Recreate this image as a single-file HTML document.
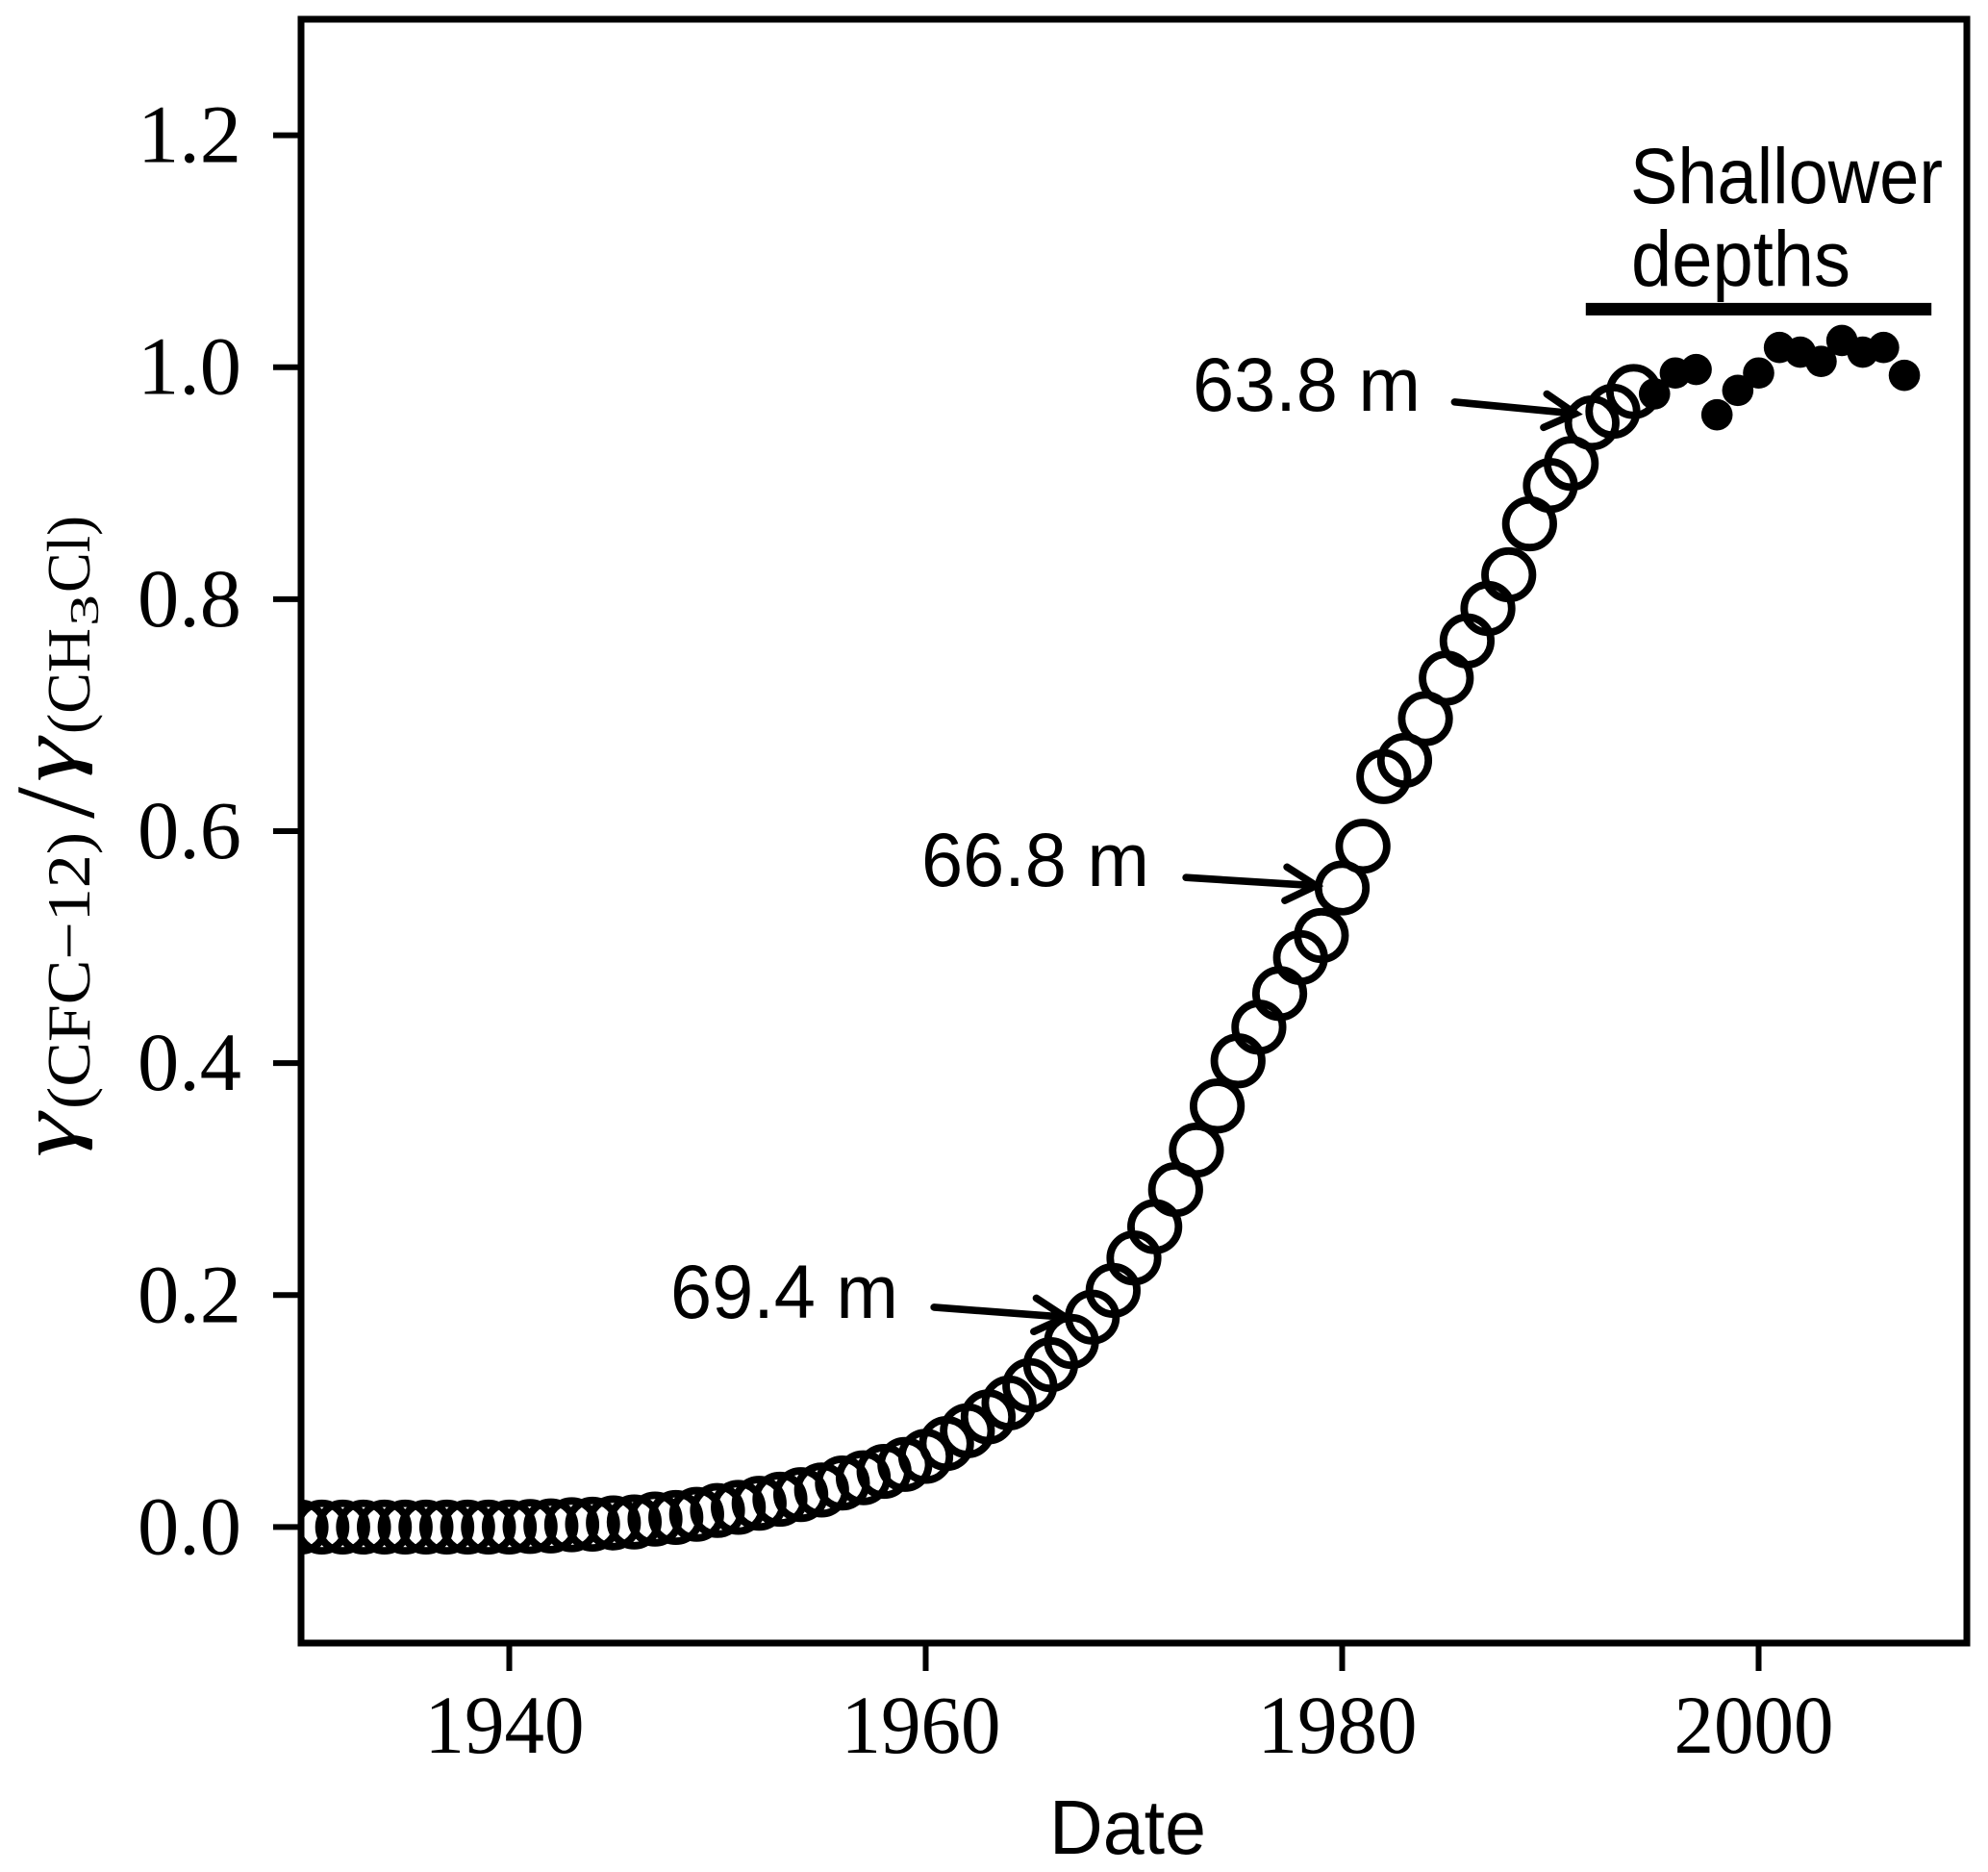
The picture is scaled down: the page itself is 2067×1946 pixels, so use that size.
<!DOCTYPE html>
<html lang="en">
<head>
<meta charset="utf-8">
<title>CFC-12 to CH3Cl ratio by date</title>
<style>
html,body{margin:0;padding:0;background:#fff}
svg{display:block}
.serif{font-family:"Liberation Serif",serif;fill:#000}
.sans{font-family:"Liberation Sans",sans-serif;fill:#000}
</style>
</head>
<body>
<svg id="chart" xmlns="http://www.w3.org/2000/svg" width="2067" height="1946" viewBox="0 0 2067 1946">
  <rect x="0" y="0" width="2067" height="1946" fill="#fff"/>
  <defs><clipPath id="plot-clip"><rect x="313" y="20" width="1732" height="1688"/></clipPath></defs>
  <g id="open-series" clip-path="url(#plot-clip)"></g>
  <g id="filled-series" clip-path="url(#plot-clip)"></g>
  <g id="annotations"></g>
  <g id="axes"></g>

  <text class="sans" x="1091" y="1927" font-size="80" textLength="163" lengthAdjust="spacingAndGlyphs">Date</text>

  <g>
    <text class="serif" font-style="italic" transform="translate(78 1203) rotate(-90)" font-size="84" textLength="46" lengthAdjust="spacingAndGlyphs">γ</text>
    <text class="serif" transform="translate(93 1153) rotate(-90)" font-size="64" textLength="288" lengthAdjust="spacingAndGlyphs">(CFC−12)</text>
    <text class="serif" transform="translate(97 851) rotate(-90)" font-size="118" textLength="33" lengthAdjust="spacingAndGlyphs">/</text>
    <text class="serif" font-style="italic" transform="translate(78 813) rotate(-90)" font-size="84" textLength="46" lengthAdjust="spacingAndGlyphs">γ</text>
    <text class="serif" transform="translate(93 763) rotate(-90)" font-size="64" textLength="110" lengthAdjust="spacingAndGlyphs">(CH</text>
    <text class="serif" transform="translate(102 651) rotate(-90)" font-size="42" textLength="33" lengthAdjust="spacingAndGlyphs">3</text>
    <text class="serif" transform="translate(93 616) rotate(-90)" font-size="64" textLength="80" lengthAdjust="spacingAndGlyphs">Cl)</text>
  </g>

  <text class="sans" x="1695" y="211" font-size="82" textLength="325" lengthAdjust="spacingAndGlyphs">Shallower</text>
  <text class="sans" x="1696" y="297" font-size="82" textLength="228" lengthAdjust="spacingAndGlyphs">depths</text>
</svg>
<script>
// Axis ranges
const xDomain = [1930, 2010];
const yDomain = [-0.1, 1.3];
// Tick labels
const xTicks = [1940, 1960, 1980, 2000];
const yTicks = [0.0, 0.2, 0.4, 0.6, 0.8, 1.0, 1.2];
// Open-circle series
const openYears = [1930,1931,1932,1933,1934,1935,1936,1937,1938,1939,1940,1941,1942,1943,1944,1945,1946,1947,1948,1949,1950,1951,1952,1953,1954,1955,1956,1957,1958,1959,1960,1961,1962,1963,1964,1965,1966,1967,1968,1969,1970,1971,1972,1973,1974,1975,1976,1977,1978,1979,1980,1981,1982,1983,1984,1985,1986,1987,1988,1989,1990,1991,1992,1993,1994];
const openValues = [0,0,0,0,0,0,0,0,0,0,0,0.0005,0.001,0.002,0.0025,0.0036,0.0044,0.0069,0.0083,0.011,0.0143,0.017,0.0205,0.024,0.028,0.032,0.038,0.0425,0.048,0.054,0.061,0.072,0.083,0.095,0.107,0.122,0.140,0.160,0.181,0.204,0.232,0.259,0.291,0.325,0.363,0.402,0.431,0.460,0.491,0.510,0.551,0.587,0.647,0.661,0.697,0.732,0.764,0.792,0.821,0.865,0.898,0.917,0.952,0.962,0.979];
// Filled-dot series
const filledYears = [1995,1996,1997,1998,1999,2000,2001,2002,2003,2004,2005,2006,2007];
const filledValues = [0.977,0.995,0.998,0.959,0.980,0.995,1.017,1.013,1.005,1.023,1.013,1.017,0.993];
// Shallower-depths bar
const barYears = [1991.7, 2008.3];
const barValue = 1.05;
// Annotations
const depthLabels = ["69.4 m", "66.8 m", "63.8 m"];
const arrowTailYears = [1960.4, 1972.5, 1985.4];
const arrowTailValues = [0.1895, 0.560, 0.970];
const arrowTipYears = [1966.7, 1978.75, 1991.2];
const arrowTipValues = [0.181, 0.553, 0.960];

const PLOT = {l: 313, r: 2045, t: 20, b: 1708};
const NS = 'http://www.w3.org/2000/svg';
function sx(v) { return PLOT.l + (v - xDomain[0]) / (xDomain[1] - xDomain[0]) * (PLOT.r - PLOT.l); }
function sy(v) { return PLOT.b - (v - yDomain[0]) / (yDomain[1] - yDomain[0]) * (PLOT.b - PLOT.t); }
function make(tag, attrs) {
  const el = document.createElementNS(NS, tag);
  for (const k in attrs) el.setAttribute(k, attrs[k]);
  return el;
}

const openG = document.getElementById('open-series');
openYears.forEach(function (yr, i) {
  const c = make('circle', {cx: sx(yr), cy: sy(openValues[i]), r: 24.7, fill: 'none', stroke: '#000', 'stroke-width': 7.8});
  
  
  openG.appendChild(c);
});

const filledG = document.getElementById('filled-series');
filledYears.forEach(function (yr, i) {
  const c = make('circle', {cx: sx(yr), cy: sy(filledValues[i]), r: 16.3, fill: '#000'});
  
  
  filledG.appendChild(c);
});

const annG = document.getElementById('annotations');
const labelX = [697, 958, 1240];
const labelY = [1370, 921, 427];
depthLabels.forEach(function (txt, i) {
  const t = make('text', {class: 'sans', x: labelX[i], y: labelY[i], 'font-size': 79, textLength: 237, lengthAdjust: 'spacingAndGlyphs'});
  
  
  t.textContent = txt;
  annG.appendChild(t);
  const x0 = sx(arrowTailYears[i]), y0 = sy(arrowTailValues[i]);
  const x1 = sx(arrowTipYears[i]), y1 = sy(arrowTipValues[i]);
  const ang = Math.atan2(y0 - y1, x0 - x1);
  const spread = 29 * Math.PI / 180, len = 36;
  const ax = x1 + len * Math.cos(ang + spread), ay = y1 + len * Math.sin(ang + spread);
  const bx = x1 + len * Math.cos(ang - spread), by = y1 + len * Math.sin(ang - spread);
  const p = make('path', {d: 'M' + x0 + ' ' + y0 + 'L' + x1 + ' ' + y1 + 'M' + ax + ' ' + ay + 'L' + x1 + ' ' + y1 + 'L' + bx + ' ' + by, fill: 'none', stroke: '#000', 'stroke-width': 7.6, 'stroke-linecap': 'round', 'stroke-linejoin': 'miter'});
  
  
  annG.appendChild(p);
});

const bar = make('line', {x1: sx(barYears[0]), x2: sx(barYears[1]), y1: sy(barValue), y2: sy(barValue), stroke: '#000', 'stroke-width': 13});


annG.appendChild(bar);

const axes = document.getElementById('axes');
const frame = make('rect', {x: PLOT.l, y: PLOT.t, width: PLOT.r - PLOT.l, height: PLOT.b - PLOT.t, fill: 'none', stroke: '#000', 'stroke-width': 7});


axes.appendChild(frame);

xTicks.forEach(function (v) {
  const x = sx(v);
  const l = make('line', {x1: x, x2: x, y1: PLOT.b, y2: PLOT.b + 29, stroke: '#000', 'stroke-width': 6});
  
  
  axes.appendChild(l);
  const t = make('text', {class: 'serif', x: x - 88, y: 1822, 'font-size': 86, textLength: 166, lengthAdjust: 'spacingAndGlyphs'});
  
  
  t.textContent = String(v);
  axes.appendChild(t);
});

yTicks.forEach(function (v) {
  const y = sy(v);
  const l = make('line', {x1: PLOT.l - 29, x2: PLOT.l, y1: y, y2: y, stroke: '#000', 'stroke-width': 6});
  
  
  axes.appendChild(l);
  const t = make('text', {class: 'serif', x: 143, y: y + 28, 'font-size': 86, textLength: 108, lengthAdjust: 'spacingAndGlyphs'});
  
  
  t.textContent = v.toFixed(1);
  axes.appendChild(t);
});
</script>
</body>
</html>
